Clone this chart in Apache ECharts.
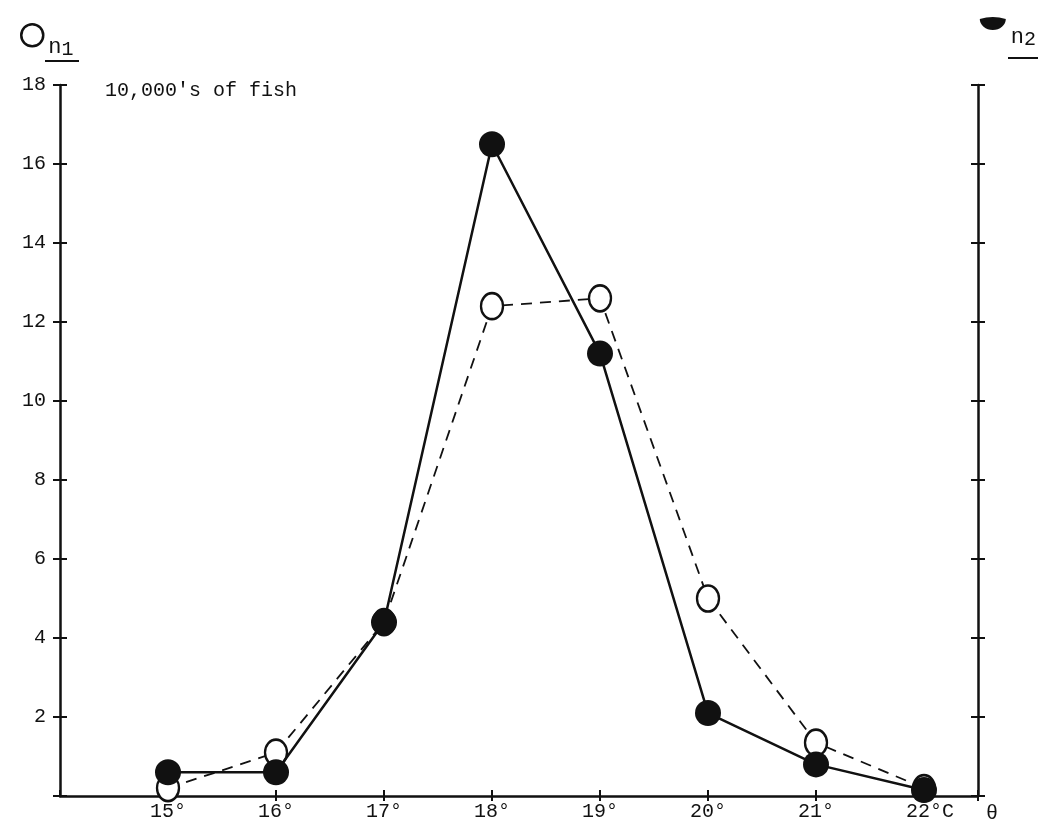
<!DOCTYPE html>
<html>
<head>
<meta charset="utf-8">
<script src="https://cdn.jsdelivr.net/npm/echarts@6/dist/echarts.min.js"></script>
<style>
  body { margin: 0; background: #fff; }
  #fishChart { width: 1043px; height: 824px; }
</style>
</head>
<body>
<div id="fishChart"></div>
<script>
// water temperature (deg C) on the x axis
var temps = [15, 16, 17, 18, 19, 20, 21, 22];
// open circles, dashed line (n1), 10,000's of fish
var n1Values = [0.2, 1.1, 4.4, 12.4, 12.6, 5.0, 1.35, 0.2];
// filled circles, solid line (n2)
var n2Values = [0.6, 0.6, 4.4, 16.5, 11.2, 2.1, 0.8, 0.15];
// labelled ticks on the left axis
var yTickLabels = [2, 4, 6, 8, 10, 12, 14, 16, 18];

var font = 'Liberation Mono';
var ink = '#111';

var fishChart = echarts.init(document.getElementById('fishChart'));

function pairs(xs, ys) {
    return xs.map(function (x, i) { return [x, ys[i]]; });
}

function tempLabel(v) {
    if (temps.indexOf(v) < 0) return '';
    if (v === temps[temps.length - 1]) {
        // keep "22°" centred on its tick, then "C"
        return '{ghost|C}' + v + '°{c|C}';
    }
    return v + '°';
}

var yAxisBase = {
    type: 'value',
    min: 0,
    max: 18,
    interval: 2,
    splitLine: { show: false },
    axisLine: { show: true, lineStyle: { color: ink, width: 2.5 } },
    axisTick: { show: true, length: 7, lineStyle: { color: ink, width: 2 } },
    axisLabel: { show: false }
};

var option = {
    animation: false,
    backgroundColor: '#fff',
    textStyle: { fontFamily: font, color: ink },
    title: {
        text: "10,000's of fish",
        left: 100,
        top: 76,
        textStyle: { fontFamily: font, fontSize: 20, fontWeight: 'normal', color: ink }
    },
    legend: [
        {
            left: 15,
            top: 18,
            itemWidth: 22,
            itemHeight: 26,
            itemGap: 6,
            data: [{ name: 'n1', icon: 'circle', itemStyle: { color: '#fff', borderColor: ink, borderWidth: 2.5 } }],
            formatter: function (name) { return '{n|n}{s|1}'; },
            textStyle: {
                rich: {
                    n: { fontFamily: font, fontSize: 22, color: ink, padding: [24, 0, 0, 0] },
                    s: { fontFamily: font, fontSize: 20, color: ink, padding: [28, 0, 0, 0] }
                }
            }
        },
        {
            right: 2,
            top: 12,
            itemWidth: 26,
            itemHeight: 20,
            itemGap: 6,
            data: [{ name: 'n2', icon: 'path://M0,3 Q13,-1 26,3 A13,11 0 0 1 0,3 Z', itemStyle: { color: ink } }],
            formatter: function (name) { return '{n|n}{s|2}'; },
            textStyle: {
                rich: {
                    n: { fontFamily: font, fontSize: 22, color: ink, padding: [28, 0, 0, 0] },
                    s: { fontFamily: font, fontSize: 20, color: ink, padding: [32, 0, 0, 0] }
                }
            }
        }
    ],
    graphic: [
        // underlines beneath the n1 / n2 legend labels
        { type: 'rect', left: 45, top: 60, shape: { width: 34, height: 2 }, style: { fill: ink } },
        { type: 'rect', left: 1008, top: 57, shape: { width: 30, height: 2 }, style: { fill: ink } }
    ],
    grid: {
        left: 60,
        right: 65,
        top: 85,
        bottom: 27,
        containLabel: false
    },
    xAxis: [
        {
            type: 'value',
            min: 14,
            max: 22.5,
            interval: 1,
            name: 'θ',
            nameLocation: 'end',
            nameGap: 8,
            nameTextStyle: { fontFamily: font, fontSize: 20, color: ink, verticalAlign: 'top', padding: [8, 0, 0, 0] },
            splitLine: { show: false },
            axisLine: { show: true, lineStyle: { color: ink, width: 2.5 } },
            axisTick: { show: true, length: 5, lineStyle: { color: ink, width: 2 } },
            axisLabel: {
                margin: 6,
                fontFamily: font,
                fontSize: 20,
                color: ink,
                showMinLabel: false,
                formatter: tempLabel,
                rich: {
                    ghost: { fontFamily: font, fontSize: 20, color: 'rgba(0,0,0,0)' },
                    c: { fontFamily: font, fontSize: 20, color: ink }
                }
            }
        },
        {
            type: 'value',
            min: 14,
            max: 22.5,
            interval: 1,
            position: 'bottom',
            splitLine: { show: false },
            axisLine: { show: false },
            axisTick: { show: true, inside: true, length: 6, lineStyle: { color: ink, width: 2 } },
            axisLabel: { show: false }
        }
    ],
    yAxis: [
        Object.assign({}, yAxisBase, {
            position: 'left',
            axisLabel: {
                show: true,
                margin: 14,
                fontFamily: font,
                fontSize: 20,
                color: ink,
                formatter: function (v) {
                    return yTickLabels.indexOf(v) >= 0 ? String(v) : '';
                }
            }
        }),
        Object.assign({}, yAxisBase, {
            position: 'left',
            axisLine: { show: false },
            axisTick: { show: true, inside: true, length: 7, lineStyle: { color: ink, width: 2 } }
        }),
        Object.assign({}, yAxisBase, {
            position: 'right'
        }),
        Object.assign({}, yAxisBase, {
            position: 'right',
            axisLine: { show: false },
            axisTick: { show: true, inside: true, length: 7, lineStyle: { color: ink, width: 2 } }
        })
    ],
    series: [
        {
            name: 'n1',
            type: 'line',
            xAxisIndex: 0,
            yAxisIndex: 0,
            z: 2,
            data: pairs(temps, n1Values),
            symbol: 'circle',
            symbolSize: [22, 26],
            itemStyle: { color: '#fff', borderColor: ink, borderWidth: 2.5 },
            lineStyle: { color: ink, width: 1.8, type: [11, 8] }
        },
        {
            name: 'n2',
            type: 'line',
            xAxisIndex: 0,
            yAxisIndex: 0,
            z: 3,
            data: pairs(temps, n2Values),
            symbol: 'circle',
            symbolSize: 26,
            itemStyle: { color: ink },
            lineStyle: { color: ink, width: 2.5 }
        }
    ]
};

fishChart.setOption(option);
</script>
</body>
</html>
